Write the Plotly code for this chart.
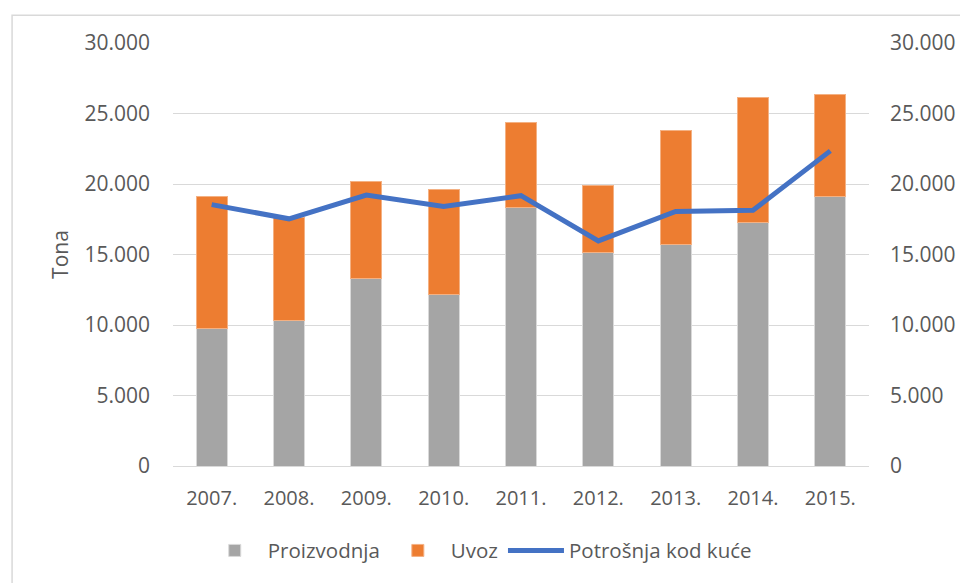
import plotly.graph_objects as go

years = ["2007.", "2008.", "2009.", "2010.", "2011.", "2012.", "2013.", "2014.", "2015."]
proizvodnja = [9770, 10310, 13300, 12170, 18360, 15110, 15700, 17250, 19130]
uvoz = [9330, 7290, 6860, 7410, 5990, 4750, 8060, 8910, 7200]
potrosnja = [18540, 17530, 19220, 18400, 19170, 15960, 18050, 18140, 22350]

tick_vals = [0, 5000, 10000, 15000, 20000, 25000, 30000]

FONT = "Open Sans"
TXT = "#595959"

fig = go.Figure()
fig.add_trace(go.Bar(x=years, y=proizvodnja, name="Proizvodnja",
                     marker=dict(color="#A5A5A5", line=dict(color="#D9D9D9", width=1))))
fig.add_trace(go.Bar(x=years, y=uvoz, name="Uvoz",
                     marker=dict(color="#ED7D31", line=dict(color="#F4B183", width=1))))
fig.add_trace(go.Scatter(x=years, y=potrosnja, name="Potrošnja kod kuće", mode="lines",
                         line=dict(color="#4472C4", width=5), yaxis="y2"))

fig.update_layout(
    width=960, height=575,
    margin=dict(l=165, r=90, t=35, b=115),
    paper_bgcolor="white", plot_bgcolor="white",
    separators=",.",
    barmode="stack", bargap=0.6,
    font=dict(family=FONT, size=18, color=TXT),
    showlegend=True,
    legend=dict(orientation="h", x=0.44, xanchor="center", y=-0.2, yanchor="middle",
                font=dict(size=20.5, color=TXT), traceorder="normal", itemwidth=56),
    xaxis=dict(showgrid=False, showline=True, linecolor="#D9D9D9", linewidth=1,
               ticks="", tickfont=dict(size=20, color=TXT), ticklabelstandoff=14),
    yaxis=dict(range=[0, 30000], tickvals=tick_vals, tickformat=",d",
               showgrid=True, gridcolor="#D9D9D9", gridwidth=1, zeroline=False,
               showline=False, ticks="", ticklabelstandoff=22,
               tickfont=dict(size=21, color=TXT),
               title=dict(text="Tona", font=dict(size=21, color=TXT), standoff=10)),
    yaxis2=dict(range=[0, 30000], tickvals=tick_vals, tickformat=",d", overlaying="y",
                side="right", showgrid=False, zeroline=False, showline=False, ticks="",
                ticklabelstandoff=20, tickfont=dict(size=21, color=TXT)),
    shapes=[dict(type="rect", xref="paper", yref="paper",
                 x0=(10 - 173) / 705, x1=(990 - 173) / 705,
                 y0=(468 - 600) / 425, y1=1 + (43 - 15) / 425,
                 line=dict(color="#D9D9D9", width=1.5), fillcolor="rgba(0,0,0,0)",
                 layer="below")],
)

fig.write_html("out.html")
